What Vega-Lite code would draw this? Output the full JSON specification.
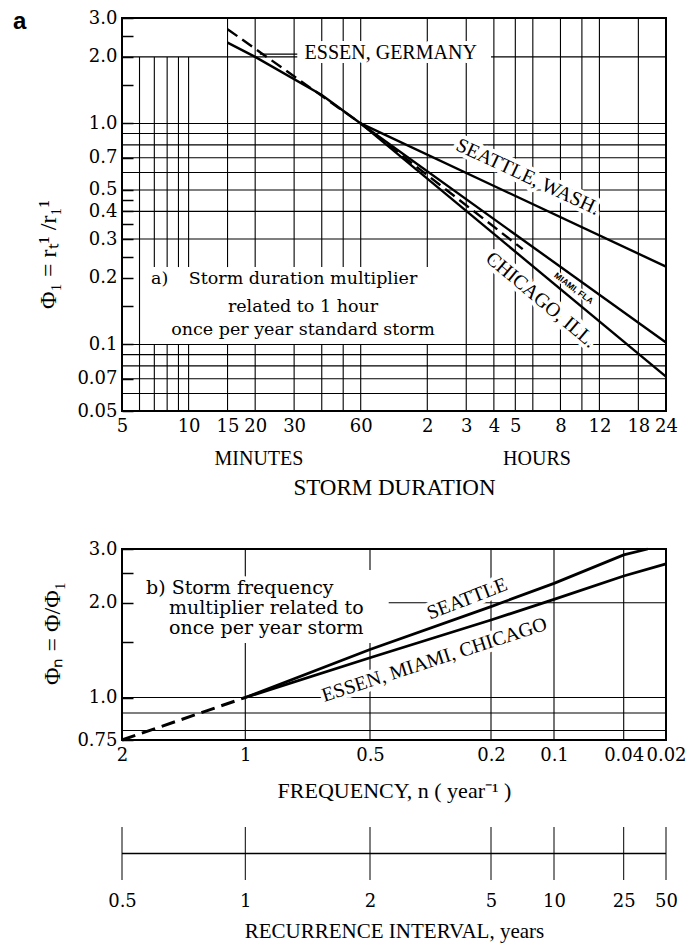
{
  "$schema": "https://vega.github.io/schema/vega-lite/v6.json",
  "background": "white",
  "padding": {"left": 12, "top": 8, "right": 4, "bottom": 2},
  "config": {
    "font": "DejaVu Serif",
    "view": {"stroke": null},
    "axis": {
      "labelFont": "DejaVu Serif",
      "labelFontSize": 18,
      "labelColor": "black",
      "titleFont": "Liberation Serif",
      "titleFontWeight": "normal",
      "titleColor": "black",
      "domain": false,
      "grid": false,
      "tickColor": "black",
      "labelFlush": false,
      "labelOverlap": false,
      "labelBound": false
    }
  },
  "bounds": "flush",
  "spacing": 138,
  "vconcat": [
    {
      "width": 544,
      "height": 393,
      "view": {"stroke": "black", "strokeWidth": 2},
      "title": {"text": "a", "anchor": "start", "frame": "group", "dx": -109, "dy": 44, "offset": 0, "baseline": "alphabetic", "font": "Liberation Sans", "fontWeight": "bold", "fontSize": 24, "color": "black"},
      "encoding": {
        "x": {
          "field": "x", "type": "quantitative",
          "scale": {"type": "log", "domain": [5, 1440], "nice": false},
          "axis": {
            "values": [5, 10, 15, 20, 30, 60, 120, 180, 240, 300, 480, 720, 1080, 1440],
            "labelExpr": "datum.value >= 120 ? format(datum.value / 60, 'd') : format(datum.value, 'd')",
            "ticks": false,
            "labelPadding": 6,
            "title": "STORM DURATION",
            "titleFontSize": 23,
            "titlePadding": 41
          }
        },
        "y": {
          "field": "y", "type": "quantitative",
          "scale": {"type": "log", "domain": [0.05, 3], "nice": false},
          "axis": {
            "values": [3, 2.5, 2, 1.5, 1, 0.7, 0.5, 0.45, 0.4, 0.35, 0.3, 0.25, 0.2, 0.15, 0.1, 0.07, 0.05],
            "labelExpr": "indexof([2.5, 1.5, 0.45, 0.35, 0.25, 0.15], datum.value) >= 0 ? '' : datum.value >= 1 ? format(datum.value, '.1f') : '' + datum.value",
            "tickSize": -11,
            "tickWidth": 1.5,
            "labelPadding": 16,
            "title": "Φ₁ = rₜ¹ /r₁¹",
            "titleFontSize": 24,
            "titlePadding": 16,
            "titleY": 236
          }
        }
      },
      "layer": [
        {
          "data": {"values": [
            {"x": 6, "y": 0.05, "y2": 2},
            {"x": 7, "y": 0.05, "y2": 0.1}, {"x": 7, "y": 0.224, "y2": 2},
            {"x": 8, "y": 0.05, "y2": 0.1}, {"x": 8, "y": 0.224, "y2": 2},
            {"x": 9, "y": 0.05, "y2": 0.1}, {"x": 9, "y": 0.224, "y2": 2},
            {"x": 10, "y": 0.05, "y2": 0.1}, {"x": 10, "y": 0.224, "y2": 2},
            {"x": 15, "y": 0.05, "y2": 0.1}, {"x": 15, "y": 0.224, "y2": 3},
            {"x": 20, "y": 0.05, "y2": 0.1}, {"x": 20, "y": 0.224, "y2": 3},
            {"x": 30, "y": 0.05, "y2": 0.1}, {"x": 30, "y": 0.224, "y2": 3},
            {"x": 40, "y": 0.05, "y2": 0.1}, {"x": 40, "y": 0.224, "y2": 3},
            {"x": 50, "y": 0.05, "y2": 0.1}, {"x": 50, "y": 0.224, "y2": 3},
            {"x": 60, "y": 0.05, "y2": 0.1}, {"x": 60, "y": 0.224, "y2": 3},
            {"x": 120, "y": 0.05, "y2": 0.1}, {"x": 120, "y": 0.224, "y2": 3},
            {"x": 180, "y": 0.05, "y2": 3},
            {"x": 240, "y": 0.05, "y2": 3},
            {"x": 300, "y": 0.05, "y2": 3},
            {"x": 360, "y": 0.05, "y2": 3},
            {"x": 480, "y": 0.05, "y2": 3},
            {"x": 600, "y": 0.05, "y2": 3},
            {"x": 720, "y": 0.05, "y2": 3},
            {"x": 1080, "y": 0.05, "y2": 3}
          ]},
          "mark": {"type": "rule", "color": "black", "strokeWidth": 1.1},
          "encoding": {"y2": {"field": "y2"}}
        },
        {
          "data": {"values": [
            {"y": 2, "x": 5, "x2": 31},
            {"y": 2.06, "x": 21, "x2": 31},
            {"y": 2, "x": 233, "x2": 1440},
            {"y": 1, "x": 5, "x2": 1440},
            {"y": 0.9, "x": 5, "x2": 1440},
            {"y": 0.8, "x": 5, "x2": 1440},
            {"y": 0.7, "x": 5, "x2": 1440},
            {"y": 0.6, "x": 5, "x2": 1440},
            {"y": 0.5, "x": 5, "x2": 1440},
            {"y": 0.4, "x": 5, "x2": 1440},
            {"y": 0.3, "x": 5, "x2": 1440},
            {"y": 0.1, "x": 5, "x2": 1440},
            {"y": 0.09, "x": 5, "x2": 1440},
            {"y": 0.08, "x": 5, "x2": 1440},
            {"y": 0.07, "x": 5, "x2": 1440},
            {"y": 0.06, "x": 5, "x2": 1440}
          ]},
          "mark": {"type": "rule", "color": "black", "strokeWidth": 1.1},
          "encoding": {"x2": {"field": "x2"}}
        },
        {
          "data": {"values": [
            {"t": "MINUTES", "x": 20.8, "y": 0.0303},
            {"t": "HOURS", "x": 376, "y": 0.0303}
          ]},
          "mark": {"type": "text", "font": "Liberation Serif", "fontSize": 20, "fill": "black"},
          "encoding": {"text": {"field": "t"}}
        },
        {
          "data": {"values": [{"t": "ESSEN, GERMANY", "x": 82, "y": 2.08}]},
          "encoding": {"text": {"field": "t"}},
          "layer": [
            {"mark": {"type": "text", "font": "Liberation Serif", "fontSize": 20, "fill": "white", "stroke": "white", "strokeWidth": 8, "strokeJoin": "round"}},
            {"mark": {"type": "text", "font": "Liberation Serif", "fontSize": 20, "fill": "black"}}
          ]
        },
        {
          "data": {"values": [{"t": "SEATTLE, WASH.", "x": 342, "y": 0.573}]},
          "encoding": {"text": {"field": "t"}},
          "layer": [
            {"mark": {"type": "text", "angle": 25, "font": "Liberation Serif", "fontSize": 20, "fill": "white", "stroke": "white", "strokeWidth": 8, "strokeJoin": "round"}},
            {"mark": {"type": "text", "angle": 25, "font": "Liberation Serif", "fontSize": 20, "fill": "black"}}
          ]
        },
        {
          "data": {"values": [{"t": "CHICAGO, ILL.", "x": 392, "y": 0.159}]},
          "encoding": {"text": {"field": "t"}},
          "layer": [
            {"mark": {"type": "text", "angle": 40, "font": "Liberation Serif", "fontSize": 20, "fill": "white", "stroke": "white", "strokeWidth": 8, "strokeJoin": "round"}},
            {"mark": {"type": "text", "angle": 40, "font": "Liberation Serif", "fontSize": 20, "fill": "black"}}
          ]
        },
        {
          "data": {"values": [{"t": "MIAMI, FLA", "x": 552, "y": 0.18}]},
          "encoding": {"text": {"field": "t"}},
          "layer": [
            {"mark": {"type": "text", "angle": 37, "font": "Liberation Sans", "fontWeight": "bold", "fontSize": 8.5, "fill": "white", "stroke": "white", "strokeWidth": 3, "strokeJoin": "round"}},
            {"mark": {"type": "text", "angle": 37, "font": "Liberation Sans", "fontWeight": "bold", "fontSize": 8.5, "fill": "black"}}
          ]
        },
        {
          "data": {"values": [
            {"t": "Storm duration multiplier", "x": 32.9, "y": 0.198},
            {"t": "related to 1 hour", "x": 32.9, "y": 0.1485},
            {"t": "once per year standard storm", "x": 32.9, "y": 0.1163}
          ]},
          "encoding": {"text": {"field": "t"}},
          "layer": [
            {"mark": {"type": "text", "font": "DejaVu Serif", "fontSize": 17.5, "fill": "white", "stroke": "white", "strokeWidth": 8, "strokeJoin": "round"}},
            {"mark": {"type": "text", "font": "DejaVu Serif", "fontSize": 17.5, "fill": "black"}}
          ]
        },
        {
          "data": {"values": [{"t": "a)", "x": 6.76, "y": 0.198}]},
          "encoding": {"text": {"field": "t"}},
          "layer": [
            {"mark": {"type": "text", "align": "left", "font": "DejaVu Serif", "fontSize": 17.5, "fill": "white", "stroke": "white", "strokeWidth": 8, "strokeJoin": "round"}},
            {"mark": {"type": "text", "align": "left", "font": "DejaVu Serif", "fontSize": 17.5, "fill": "black"}}
          ]
        },
        {
          "data": {"values": [
            {"s": "common", "x": 15, "y": 2.32},
            {"s": "common", "x": 20, "y": 2.0},
            {"s": "common", "x": 40, "y": 1.345},
            {"s": "common", "x": 60, "y": 1.0},
            {"s": "Seattle", "x": 60, "y": 1.0},
            {"s": "Seattle", "x": 1440, "y": 0.225},
            {"s": "Miami", "x": 60, "y": 1.0},
            {"s": "Miami", "x": 1440, "y": 0.102},
            {"s": "Chicago", "x": 60, "y": 1.0},
            {"s": "Chicago", "x": 1440, "y": 0.0715}
          ]},
          "mark": {"type": "line", "color": "black", "strokeWidth": 2.4},
          "encoding": {"detail": {"field": "s"}}
        },
        {
          "data": {"values": [
            {"s": "Essen", "x": 15, "y": 2.67},
            {"s": "Essen", "x": 60, "y": 1.0},
            {"s": "Essen", "x": 324, "y": 0.27}
          ]},
          "mark": {"type": "line", "color": "black", "strokeWidth": 2.4, "strokeDash": [12, 6]},
          "encoding": {"detail": {"field": "s"}}
        }
      ]
    },
    {
      "bounds": "flush",
      "spacing": 87,
      "vconcat": [
        {
          "width": 544,
          "height": 191,
          "view": {"stroke": "black", "strokeWidth": 2},
          "encoding": {
            "x": {
              "field": "x", "type": "quantitative",
              "scale": {"type": "log", "domain": [2, 1, 0.5, 0.2, 0.1, 0.04, 0.02], "range": [0, 123.3, 248, 369, 432, 501.7, 544], "nice": false},
              "axis": {
                "values": [2, 1, 0.5, 0.2, 0.1, 0.04, 0.02],
                "labelExpr": "'' + datum.value",
                "ticks": false,
                "labelPadding": 6,
                "title": "FREQUENCY, n ( year⁻¹ )",
                "titleFontSize": 22,
                "titlePadding": 16
              }
            },
            "y": {
              "field": "y", "type": "quantitative",
              "scale": {"type": "log", "domain": [0.75, 1, 2, 3], "range": [191, 148.5, 53.7, 0], "nice": false},
              "axis": {
                "values": [3, 2.5, 2, 1.5, 1, 0.75],
                "labelExpr": "datum.value == 0.75 ? '0.75' : indexof([2.5, 1.5], datum.value) >= 0 ? '' : format(datum.value, '.1f')",
                "tickSize": -11,
                "tickWidth": 1.5,
                "labelPadding": 16,
                "title": "Φₙ = Φ/Φ₁",
                "titleFontSize": 24,
                "titlePadding": 12,
                "titleY": 84
              }
            }
          },
          "layer": [
            {
              "data": {"values": [
                {"x": 1, "y": 0.75, "y2": 1.49}, {"x": 1, "y": 2.375, "y2": 3},
                {"x": 0.5, "y": 0.75, "y2": 1.49}, {"x": 0.5, "y": 2.56, "y2": 3},
                {"x": 0.2, "y": 0.75, "y2": 3},
                {"x": 0.1, "y": 0.75, "y2": 3},
                {"x": 0.04, "y": 0.75, "y2": 3}
              ]},
              "mark": {"type": "rule", "color": "black", "strokeWidth": 1.1},
              "encoding": {"y2": {"field": "y2"}}
            },
            {
              "data": {"values": [
                {"y": 2, "x": 0.434, "x2": 0.02},
                {"y": 1, "x": 2, "x2": 0.02},
                {"y": 0.9, "x": 2, "x2": 0.02},
                {"y": 0.8, "x": 2, "x2": 0.02}
              ]},
              "mark": {"type": "rule", "color": "black", "strokeWidth": 1.1},
              "encoding": {"x2": {"field": "x2"}}
            },
            {
              "data": {"values": [
                {"t": "b) Storm frequency", "x": 1.747, "y": 2.236},
                {"t": "multiplier related to", "x": 1.536, "y": 1.924},
                {"t": "once per year storm", "x": 1.536, "y": 1.663}
              ]},
              "encoding": {"text": {"field": "t"}},
              "layer": [
                {"mark": {"type": "text", "align": "left", "font": "DejaVu Serif", "fontSize": 19, "fill": "white", "stroke": "white", "strokeWidth": 8, "strokeJoin": "round"}},
                {"mark": {"type": "text", "align": "left", "font": "DejaVu Serif", "fontSize": 19, "fill": "black"}}
              ]
            },
            {
              "data": {"values": [{"t": "SEATTLE", "x": 0.2395, "y": 2.057}]},
              "encoding": {"text": {"field": "t"}},
              "layer": [
                {"mark": {"type": "text", "angle": -21, "font": "Liberation Serif", "fontSize": 20, "fill": "white", "stroke": "white", "strokeWidth": 8, "strokeJoin": "round"}},
                {"mark": {"type": "text", "angle": -21, "font": "Liberation Serif", "fontSize": 20, "fill": "black"}}
              ]
            },
            {
              "data": {"values": [{"t": "ESSEN, MIAMI, CHICAGO", "x": 0.307, "y": 1.316}]},
              "encoding": {"text": {"field": "t"}},
              "layer": [
                {"mark": {"type": "text", "angle": -18, "font": "Liberation Serif", "fontSize": 20, "fill": "white", "stroke": "white", "strokeWidth": 8, "strokeJoin": "round"}},
                {"mark": {"type": "text", "angle": -18, "font": "Liberation Serif", "fontSize": 20, "fill": "black"}}
              ]
            },
            {
              "data": {"values": [
                {"s": "Seattle", "x": 1, "y": 1.0},
                {"s": "Seattle", "x": 0.5, "y": 1.42},
                {"s": "Seattle", "x": 0.2, "y": 1.943},
                {"s": "Seattle", "x": 0.1, "y": 2.315},
                {"s": "Seattle", "x": 0.04, "y": 2.868},
                {"s": "Seattle", "x": 0.027, "y": 3.0},
                {"s": "Essen, Miami, Chicago", "x": 1, "y": 1.0},
                {"s": "Essen, Miami, Chicago", "x": 0.5, "y": 1.337},
                {"s": "Essen, Miami, Chicago", "x": 0.2, "y": 1.762},
                {"s": "Essen, Miami, Chicago", "x": 0.1, "y": 2.05},
                {"s": "Essen, Miami, Chicago", "x": 0.04, "y": 2.447},
                {"s": "Essen, Miami, Chicago", "x": 0.02, "y": 2.68}
              ]},
              "mark": {"type": "line", "color": "black", "strokeWidth": 2.8},
              "encoding": {"detail": {"field": "s"}}
            },
            {
              "data": {"values": [
                {"s": "all", "x": 2, "y": 0.75},
                {"s": "all", "x": 1, "y": 1.0}
              ]},
              "mark": {"type": "line", "color": "black", "strokeWidth": 3, "strokeDash": [14, 7]},
              "encoding": {"detail": {"field": "s"}}
            }
          ]
        },
        {
          "width": 544,
          "height": 53,
          "view": {"stroke": null},
          "data": {"values": [{"x": 0.5}, {"x": 1}, {"x": 2}, {"x": 5}, {"x": 10}, {"x": 25}, {"x": 50}]},
          "encoding": {
            "x": {
              "field": "x", "type": "quantitative",
              "scale": {"type": "log", "domain": [0.5, 1, 2, 5, 10, 25, 50], "range": [0, 123.3, 248, 369, 432, 501.7, 544], "nice": false},
              "axis": {
                "values": [0.5, 1, 2, 5, 10, 25, 50],
                "labelExpr": "'' + datum.value",
                "ticks": false,
                "labelPadding": 12,
                "title": "RECURRENCE INTERVAL, years",
                "titleFontSize": 21,
                "titlePadding": 10
              }
            }
          },
          "layer": [
            {
              "mark": {"type": "rule", "color": "black", "strokeWidth": 1},
              "encoding": {
                "y": {"datum": -1, "type": "quantitative", "scale": {"domain": [-1, 1]}, "axis": null},
                "y2": {"datum": 1}
              }
            },
            {
              "data": {"values": [{"x": 0.5, "x2": 50}]},
              "mark": {"type": "rule", "color": "black", "strokeWidth": 1.5},
              "encoding": {
                "x2": {"field": "x2"},
                "y": {"datum": 0, "type": "quantitative", "scale": {"domain": [-1, 1]}, "axis": null}
              }
            }
          ]
        }
      ]
    }
  ]
}
